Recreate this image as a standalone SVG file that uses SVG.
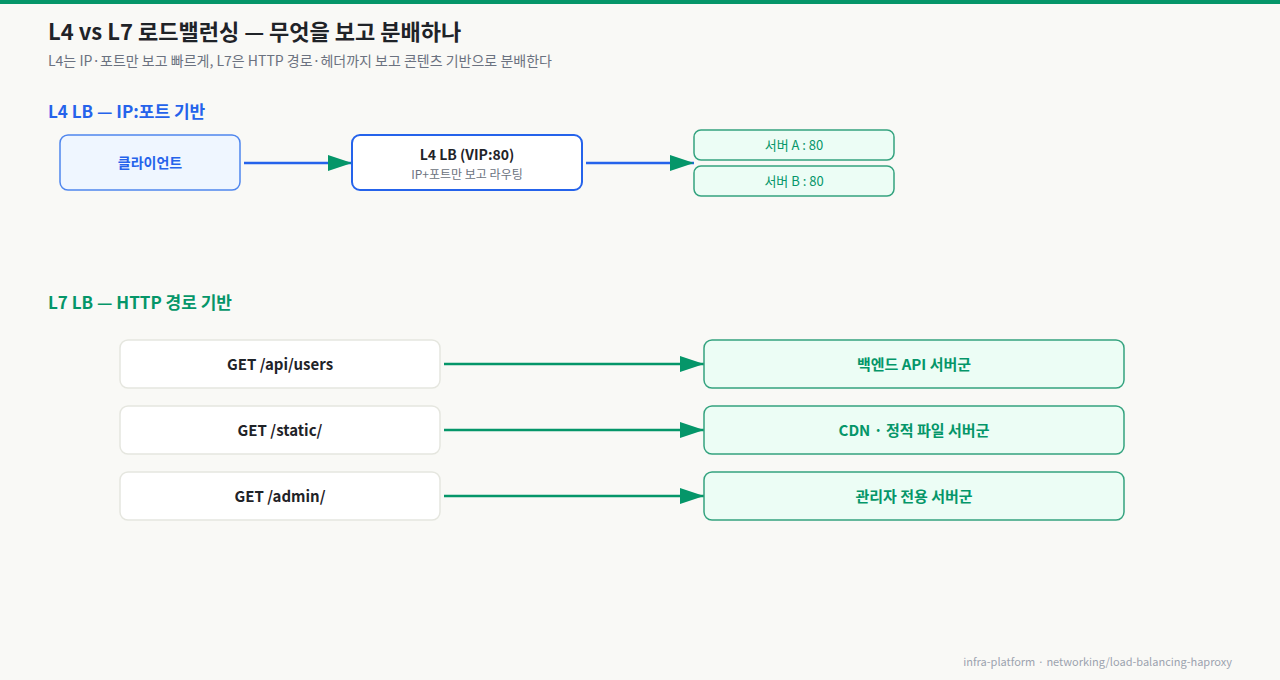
<svg xmlns="http://www.w3.org/2000/svg" width="1280" height="680" viewBox="0 0 1280 680">
<style>
text{font-family:"Noto Sans CJK KR","Noto Sans",sans-serif}
.title{font-size:22px;font-weight:700;fill:#1f2328}
.sub{font-size:14px;fill:#6b7280}
.h4{font-size:17px;font-weight:700;fill:#2563eb}
.h7{font-size:17px;font-weight:700;fill:#059669}
.blue{stroke:#2563eb;stroke-width:2.5;fill:none}
.green{stroke:#059669;stroke-width:2.5;fill:none}
.req rect{fill:#ffffff;stroke:#e5e6df;stroke-width:1.5}
.req text{font-size:15px;font-weight:700;fill:#1f2328;text-anchor:middle}
.dst rect{fill:#ecfdf5;stroke:#34a37f;stroke-width:1.5}
.dst text{font-size:15px;font-weight:700;fill:#059669;text-anchor:middle}
.srv rect{fill:#ecfdf5;stroke:#34a37f;stroke-width:1.5}
.srv text{font-size:13px;fill:#059669;text-anchor:middle}
</style>
<defs>
<marker id="ah2" markerWidth="24" markerHeight="16" refX="24" refY="8" orient="auto" markerUnits="userSpaceOnUse" viewBox="0 0 24 16">
<path d="M0,0 L24,8 L0,16 Z" fill="#059669"/>
</marker>
</defs>
<rect width="1280" height="680" fill="#f9f9f6"/>
<rect width="1280" height="4" fill="#059669"/>
<text class="title" x="48" y="40">L4 vs L7 로드밸런싱 — 무엇을 보고 분배하나</text>
<text class="sub" x="48" y="66">L4는 IP·포트만 보고 빠르게, L7은 HTTP 경로·헤더까지 보고 콘텐츠 기반으로 분배한다</text>
<text class="h4" x="48" y="118">L4 LB — IP:포트 기반</text>
<text class="h7" x="48" y="309">L7 LB — HTTP 경로 기반</text>

<g id="connectors">
<line class="blue" x1="244" y1="163" x2="352" y2="163" marker-end="url(#ah2)"/>
<line class="blue" x1="586" y1="163" x2="694" y2="163" marker-end="url(#ah2)"/>
<line class="green" x1="444" y1="364" x2="704" y2="364" marker-end="url(#ah2)"/>
<line class="green" x1="444" y1="430" x2="704" y2="430" marker-end="url(#ah2)"/>
<line class="green" x1="444" y1="496" x2="704" y2="496" marker-end="url(#ah2)"/>
</g>

<g id="client">
<rect x="60" y="135" width="180" height="55" rx="8" fill="#eff6ff" stroke="#4f86ee" stroke-width="1.5"/>
<text x="150" y="168" text-anchor="middle" font-size="14" font-weight="700" fill="#2563eb">클라이언트</text>
</g>
<g id="l4lb">
<rect x="352" y="135" width="230" height="55" rx="8" fill="#ffffff" stroke="#2563eb" stroke-width="2"/>
<text x="467" y="160" text-anchor="middle" font-size="14" font-weight="700" fill="#1f2328">L4 LB (VIP:80)</text>
<text x="467" y="179" text-anchor="middle" font-size="12" fill="#6b7280">IP+포트만 보고 라우팅</text>
</g>
<g id="serverA" class="srv">
<rect x="694" y="130" width="200" height="30" rx="7"/>
<text x="794" y="150">서버 A : 80</text>
</g>
<g id="serverB" class="srv">
<rect x="694" y="166" width="200" height="30" rx="7"/>
<text x="794" y="186">서버 B : 80</text>
</g>

<g id="req-api" class="req">
<rect x="120" y="340" width="320" height="48" rx="8"/>
<text x="280" y="370">GET /api/users</text>
</g>
<g id="req-static" class="req">
<rect x="120" y="406" width="320" height="48" rx="8"/>
<text x="280" y="436">GET /static/</text>
</g>
<g id="req-admin" class="req">
<rect x="120" y="472" width="320" height="48" rx="8"/>
<text x="280" y="502">GET /admin/</text>
</g>

<g id="dst-api" class="dst">
<rect x="704" y="340" width="420" height="48" rx="8"/>
<text x="914" y="370">백엔드 API 서버군</text>
</g>
<g id="dst-static" class="dst">
<rect x="704" y="406" width="420" height="48" rx="8"/>
<text x="914" y="436">CDN · 정적 파일 서버군</text>
</g>
<g id="dst-admin" class="dst">
<rect x="704" y="472" width="420" height="48" rx="8"/>
<text x="914" y="502">관리자 전용 서버군</text>
</g>

<text x="1232" y="666" text-anchor="end" font-size="11" fill="#9ca3af">infra-platform · networking/load-balancing-haproxy</text>
</svg>
